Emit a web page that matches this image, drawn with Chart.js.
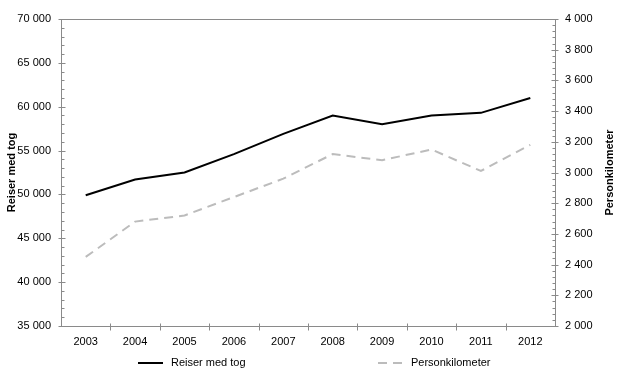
<!DOCTYPE html>
<html>
<head>
<meta charset="utf-8">
<script src="https://cdn.jsdelivr.net/npm/chart.js@4/dist/chart.umd.min.js"></script>
<style>
  body { margin: 0; background: #fff; }
  #wrap { width: 620px; height: 385px; position: relative; }
</style>
</head>
<body>
<div id="wrap"><canvas id="togChart"></canvas></div>
<script>
// data
const years = ['2003', '2004', '2005', '2006', '2007', '2008', '2009', '2010', '2011', '2012'];
const reiserMedTog = [49900, 51700, 52500, 54600, 56900, 59000, 58000, 59000, 59300, 61000];
const personkilometer = [2450, 2680, 2720, 2840, 2960, 3120, 3080, 3150, 3010, 3180];
const leftAxis = { min: 35000, max: 70000, step: 5000, minor: 1000 };
const rightAxis = { min: 2000, max: 4000, step: 200, minor: 40 };

const FONT = 'Liberation Sans, Arial, sans-serif';
const FRAME = '#8a8a8a';
const GREY_LINE = '#bcbcbc';

function spaced(v) {
    return String(v).replace(/\B(?=(\d{3})+(?!\d))/g, ' ');
}

// frame, tick marks, axis titles and legend
const decor = {
    id: 'decor',
    afterDraw(chart) {
        const ctx = chart.ctx;
        const a = chart.chartArea;
        const x = chart.scales.x, y = chart.scales.y, y1 = chart.scales.y1;
        ctx.save();
        ctx.strokeStyle = FRAME;
        ctx.lineWidth = 1;
        ctx.strokeRect(Math.round(a.left) + 0.5, Math.round(a.top) + 0.5,
            Math.round(a.right - a.left), Math.round(a.bottom - a.top));

        const L = Math.round(a.left) + 0.5, R = Math.round(a.right) + 0.5, B = Math.round(a.bottom) + 0.5;
        ctx.beginPath();
        for (let v = leftAxis.min; v <= leftAxis.max; v += leftAxis.minor) {
            const py = Math.round(y.getPixelForValue(v)) + 0.5;
            if (v % leftAxis.step === 0) { ctx.moveTo(L - 3, py); ctx.lineTo(L + 4, py); }
            else { ctx.moveTo(L, py); ctx.lineTo(L + 3, py); }
        }
        for (let v = rightAxis.min; v <= rightAxis.max; v += rightAxis.minor) {
            const py = Math.round(y1.getPixelForValue(v)) + 0.5;
            if (v % rightAxis.step === 0) { ctx.moveTo(R - 4, py); ctx.lineTo(R + 3, py); }
            else { ctx.moveTo(R - 3, py); ctx.lineTo(R, py); }
        }
        for (let i = 1; i < years.length; i++) {
            const px = Math.round((x.getPixelForValue(i - 1) + x.getPixelForValue(i)) / 2) + 0.5;
            ctx.moveTo(px, B - 3); ctx.lineTo(px, B + 4);
        }
        ctx.stroke();

        // axis titles
        ctx.fillStyle = '#000';
        ctx.font = 'bold 11px ' + FONT;
        ctx.textAlign = 'center';
        ctx.textBaseline = 'middle';
        const midY = (a.top + a.bottom) / 2;
        ctx.save(); ctx.translate(12, midY); ctx.rotate(-Math.PI / 2);
        ctx.fillText('Reiser med tog', 0, 0); ctx.restore();
        ctx.save(); ctx.translate(610, midY); ctx.rotate(-Math.PI / 2);
        ctx.fillText('Personkilometer', 0, 0); ctx.restore();

        // legend
        const ly = 363;
        ctx.lineWidth = 2;
        ctx.strokeStyle = '#000';
        ctx.beginPath(); ctx.moveTo(138, ly); ctx.lineTo(163, ly); ctx.stroke();
        ctx.strokeStyle = GREY_LINE;
        ctx.setLineDash([9, 6]);
        ctx.beginPath(); ctx.moveTo(378, ly); ctx.lineTo(403, ly); ctx.stroke();
        ctx.setLineDash([]);
        ctx.font = '11px ' + FONT;
        ctx.textAlign = 'left';
        ctx.fillText('Reiser med tog', 171, ly);
        ctx.fillText('Personkilometer', 411, ly);
        ctx.restore();
    }
};

new Chart(document.getElementById('togChart').getContext('2d'), {
    type: 'line',
    data: {
        labels: years,
        datasets: [{
            label: 'Reiser med tog',
            data: reiserMedTog,
            yAxisID: 'y',
            borderColor: '#000',
            borderWidth: 2,
            pointRadius: 0,
            tension: 0
        }, {
            label: 'Personkilometer',
            data: personkilometer,
            yAxisID: 'y1',
            borderColor: GREY_LINE,
            borderWidth: 2,
            borderDash: [9, 6],
            pointRadius: 0,
            tension: 0
        }]
    },
    options: {
        responsive: true,
        maintainAspectRatio: false,
        animation: false,
        layout: { padding: { top: 19, left: 0, right: 0, bottom: 0 } },
        plugins: {
            legend: { display: false },
            tooltip: { enabled: false }
        },
        scales: {
            x: {
                offset: true,
                grid: { display: false, drawTicks: false },
                border: { display: false },
                ticks: { color: '#000', font: { family: FONT, size: 11 }, padding: 9, maxRotation: 0 },
                afterFit(s) { s.height = 59; }
            },
            y: {
                position: 'left',
                min: leftAxis.min, max: leftAxis.max,
                grid: { display: false, drawTicks: false },
                border: { display: false },
                ticks: {
                    stepSize: leftAxis.step, color: '#000', padding: 10,
                    font: { family: FONT, size: 11 },
                    callback: v => spaced(v)
                },
                afterFit(s) { s.width = 61; }
            },
            y1: {
                position: 'right',
                min: rightAxis.min, max: rightAxis.max,
                grid: { display: false, drawTicks: false },
                border: { display: false },
                ticks: {
                    stepSize: rightAxis.step, color: '#000', padding: 10,
                    font: { family: FONT, size: 11 },
                    callback: v => spaced(v)
                },
                afterFit(s) { s.width = 65; }
            }
        }
    },
    plugins: [decor]
});
</script>
</body>
</html>
